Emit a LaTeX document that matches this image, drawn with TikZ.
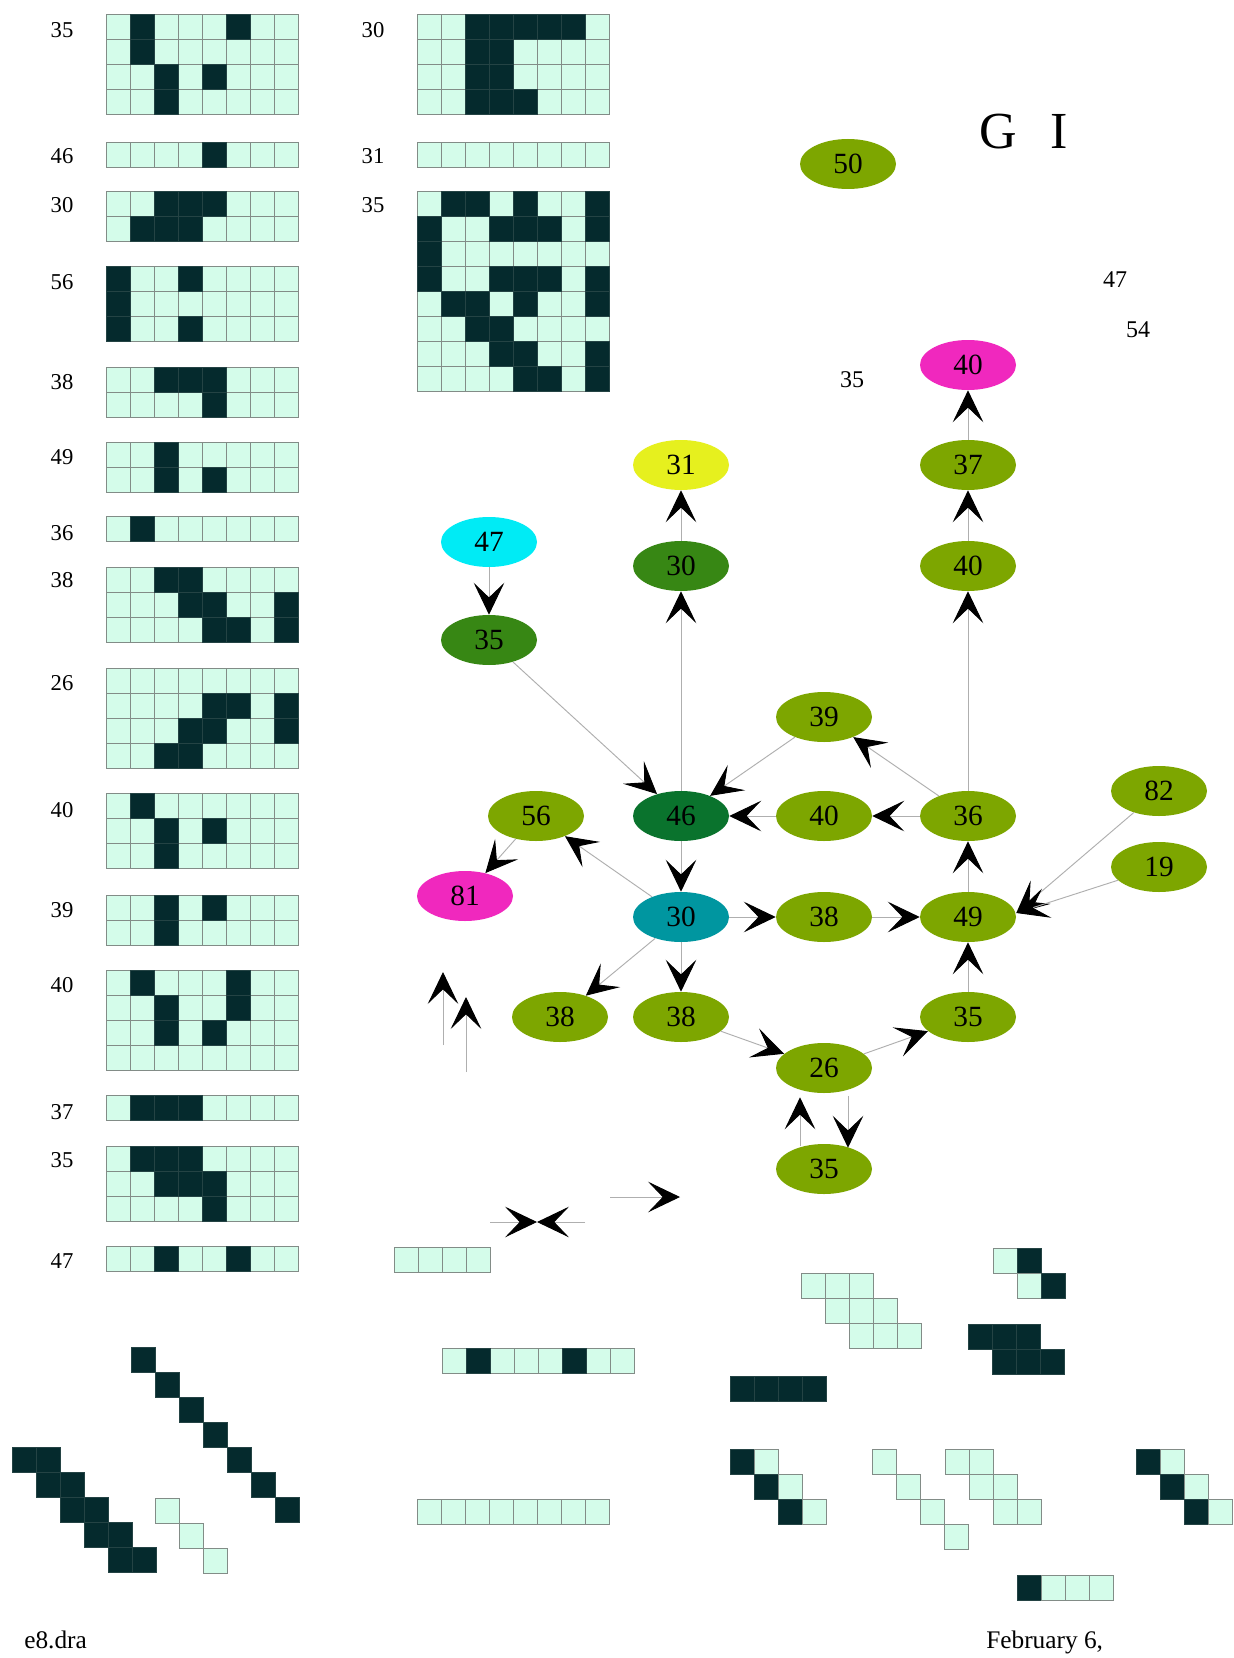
\documentclass[tikz,border=0pt]{standalone}
\usepackage{fontspec}
\setmainfont{Liberation Serif}
\usetikzlibrary{shapes.geometric,arrows.meta,calc}
\definecolor{olv}{RGB}{125,166,0}
\definecolor{dkg}{RGB}{55,135,20}
\definecolor{dkgb}{RGB}{10,115,45}
\definecolor{tealc}{RGB}{0,150,160}
\definecolor{cyanc}{RGB}{0,235,245}
\definecolor{yelc}{RGB}{230,240,30}
\definecolor{magc}{RGB}{240,40,190}
\definecolor{cl}{RGB}{212,252,234}
\definecolor{cd}{RGB}{5,42,45}
\definecolor{gline}{RGB}{130,140,135}
\definecolor{eline}{RGB}{175,175,175}
\tikzset{
  cellL/.style={fill=cl,draw=gline,line width=0.7pt},
  cellD/.style={fill=cd,draw=cd!75!gline,line width=0.7pt},
  nd/.style={ellipse,minimum width=72pt,minimum height=37.5pt,inner sep=0pt,font=\fontsize{22}{22}\selectfont},
  lbl/.style={font=\fontsize{17}{17}\selectfont,inner sep=0pt},
  edge/.style={draw=eline,line width=0.7pt,-{Stealth[length=24pt,width=23pt,inset=11pt,color=black]}},
}
\newcommand\mygrid[5]{%
  \foreach \ii in {1,...,#3}{\foreach \jj in {1,...,#4}{%
    \filldraw[cellL] ({#1+(\ii-1)*24},{#2+(\jj-1)*25}) rectangle ++(24,25);}}%
  \foreach \pp/\qq in {#5}{\filldraw[cellD] ({#1+\pp*24},{#2+\qq*25}) rectangle ++(24,25);}%
}
\newcommand\mygridE[4]{%
  \foreach \ii in {1,...,#3}{\foreach \jj in {1,...,#4}{%
    \filldraw[cellL] ({#1+(\ii-1)*24},{#2+(\jj-1)*25}) rectangle ++(24,25);}}%
}
\newcommand\cellLt[2]{\filldraw[cellL] (#1,#2) rectangle ++(24,25);}
\newcommand\cellDk[2]{\filldraw[cellD] (#1,#2) rectangle ++(24,25);}
\begin{document}
\begin{tikzpicture}[x=0.75pt,y=-0.75pt]
\fill[white] (0,0) rectangle (1233,1658);
\useasboundingbox (0,0) rectangle (1233,1658);

% ---------- left column grids ----------
\mygrid{106}{14}{8}{4}{1/0,5/0,1/1,2/2,4/2,2/3}
\mygrid{106}{142}{8}{1}{4/0}
\mygrid{106}{191}{8}{2}{2/0,3/0,4/0,1/1,2/1,3/1}
\mygrid{106}{266}{8}{3}{0/0,3/0,0/1,0/2,3/2}
\mygrid{106}{367}{8}{2}{2/0,3/0,4/0,4/1}
\mygrid{106}{442}{8}{2}{2/0,2/1,4/1}
\mygrid{106}{516}{8}{1}{1/0}
\mygrid{106}{567}{8}{3}{2/0,3/0,3/1,4/1,7/1,4/2,5/2,7/2}
\mygrid{106}{668}{8}{4}{4/1,5/1,7/1,3/2,4/2,7/2,2/3,3/3}
\mygrid{106}{793}{8}{3}{1/0,2/1,4/1,2/2}
\mygrid{106}{895}{8}{2}{2/0,4/0,2/1}
\mygrid{106}{970}{8}{4}{1/0,5/0,2/1,5/1,2/2,4/2}
\mygrid{106}{1095}{8}{1}{1/0,2/0,3/0}
\mygrid{106}{1146}{8}{3}{1/0,2/0,3/0,2/1,3/1,4/1,4/2}
\mygrid{106}{1246}{8}{1}{2/0,5/0}

\node[lbl] (la1) at (62,30) {35};
\node[lbl] (la2) at (62,156) {46};
\node[lbl] (la3) at (62,205) {30};
\node[lbl] (la4) at (62,282) {56};
\node[lbl] (la5) at (62,382) {38};
\node[lbl] (la6) at (62,457) {49};
\node[lbl] (la7) at (62,533) {36};
\node[lbl] (la8) at (62,580) {38};
\node[lbl] (la9) at (62,683) {26};
\node[lbl] (la10) at (62,810) {40};
\node[lbl] (la11) at (62,910) {39};
\node[lbl] (la12) at (62,985) {40};
\node[lbl] (la13) at (62,1112) {37};
\node[lbl] (la14) at (62,1160) {35};
\node[lbl] (la15) at (62,1261) {47};

% ---------- middle column grids ----------
\mygrid{417}{14}{8}{4}{2/0,3/0,4/0,5/0,6/0,2/1,3/1,2/2,3/2,2/3,3/3,4/3}
\mygridE{417}{142}{8}{1}
\mygrid{417}{191}{8}{8}{1/0,2/0,4/0,7/0,0/1,3/1,4/1,5/1,7/1,0/2,0/3,3/3,4/3,5/3,7/3,1/4,2/4,4/4,7/4,2/5,3/5,3/6,4/6,7/6,4/7,5/7,7/7}
\node[lbl] (lb1) at (373,30) {30};
\node[lbl] (lb2) at (373,156) {31};
\node[lbl] (lb3) at (373,205) {35};

% ---------- bottom left cells ----------
\foreach \k in {0,...,6}{\cellDk{131+24*\k}{1347+25*\k}}
\foreach \r in {0,...,4}{\cellDk{12+24*\r}{1447+25*\r}\cellDk{36+24*\r}{1447+25*\r}}
\cellLt{155}{1498}\cellLt{179}{1523}\cellLt{203}{1548}

% ---------- bottom middle ----------
\mygridE{394}{1247}{4}{1}
\mygrid{442}{1348}{8}{1}{1/0,5/0}
\mygridE{417}{1499}{8}{1}

% ---------- bottom right ----------
\cellLt{801}{1273}\cellLt{825}{1273}\cellLt{849}{1273}
\cellLt{825}{1298}\cellLt{849}{1298}\cellLt{873}{1298}
\cellLt{849}{1323}\cellLt{873}{1323}\cellLt{897}{1323}
\cellLt{993}{1248}\cellDk{1017}{1248}
\cellLt{1017}{1273}\cellDk{1041}{1273}
\cellDk{968}{1324}\cellDk{992}{1324}\cellDk{1016}{1324}
\cellDk{992}{1349}\cellDk{1016}{1349}\cellDk{1040}{1349}
\cellDk{730}{1376}\cellDk{754}{1376}\cellDk{778}{1376}\cellDk{802}{1376}
\cellDk{730}{1449}\cellLt{754}{1449}
\cellDk{754}{1474}\cellLt{778}{1474}
\cellDk{778}{1499}\cellLt{802}{1499}
\cellLt{872}{1449}\cellLt{896}{1474}\cellLt{920}{1499}\cellLt{944}{1524}
\cellLt{945}{1449}\cellLt{969}{1449}
\cellLt{969}{1474}\cellLt{993}{1474}
\cellLt{993}{1499}\cellLt{1017}{1499}
\cellDk{1136}{1449}\cellLt{1160}{1449}
\cellDk{1160}{1474}\cellLt{1184}{1474}
\cellDk{1184}{1499}\cellLt{1208}{1499}
\cellDk{1017}{1575}\cellLt{1041}{1575}\cellLt{1065}{1575}\cellLt{1089}{1575}

% ---------- texts ----------
\node[font=\fontsize{39}{39}\selectfont,inner sep=0pt] (gi) at (1024,132) {G\hspace{25pt}I};
\node[lbl,font=\fontsize{18}{18}\selectfont] (t47) at (1115,280) {47};
\node[lbl,font=\fontsize{18}{18}\selectfont] (t54) at (1138,330) {54};
\node[lbl,font=\fontsize{18}{18}\selectfont] (t35) at (852,380) {35};
\node[font=\fontsize{19}{19}\selectfont,inner sep=0pt,anchor=west] (fname) at (24,1640) {e8.dra};
\node[font=\fontsize{19}{19}\selectfont,inner sep=0pt,anchor=west] (fdate) at (986,1642) {February 6,};

% ---------- graph nodes ----------
\node[nd,fill=olv] (n50) at (848,164) {50};
\node[nd,fill=magc] (n40m) at (968,365) {40};
\node[nd,fill=olv] (n37) at (968,465) {37};
\node[nd,fill=yelc] (n31) at (681,465) {31};
\node[nd,fill=cyanc] (n47) at (489,542) {47};
\node[nd,fill=dkg] (n30a) at (681,566) {30};
\node[nd,fill=olv] (n40a) at (968,566) {40};
\node[nd,fill=dkg] (n35a) at (489,640) {35};
\node[nd,fill=olv] (n39) at (824,717) {39};
\node[nd,fill=olv] (n82) at (1159,791) {82};
\node[nd,fill=olv] (n56) at (536,816) {56};
\node[nd,fill=dkgb] (n46) at (681,816) {46};
\node[nd,fill=olv] (n40b) at (824,816) {40};
\node[nd,fill=olv] (n36) at (968,816) {36};
\node[nd,fill=olv] (n19) at (1159,867) {19};
\node[nd,fill=magc] (n81) at (465,896) {81};
\node[nd,fill=tealc] (n30b) at (681,917) {30};
\node[nd,fill=olv] (n38a) at (824,917) {38};
\node[nd,fill=olv] (n49) at (968,917) {49};
\node[nd,fill=olv] (n38b) at (560,1017) {38};
\node[nd,fill=olv] (n38c) at (681,1017) {38};
\node[nd,fill=olv] (n35b) at (968,1017) {35};
\node[nd,fill=olv] (n26) at (824,1068) {26};
\node[nd,fill=olv] (n35c) at (824,1169) {35};

% ---------- edges ----------
\draw[edge] (n47) -- (n35a);
\draw[edge] (n30a) -- (n31);
\draw[edge] (n46) -- (n30a);
\draw[edge] (n40a) -- (n37);
\draw[edge] (n37) -- (n40m);
\draw[edge] (n36) -- (n40a);
\draw[edge] (n35a) -- (n46);
\draw[edge] (n39) -- (n46);
\draw[edge] (n36) -- (n39);
\draw[edge] (n40b) -- (n46);
\draw[edge] (n36) -- (n40b);
\draw[edge] (n46) -- (n30b);
\draw[edge] (n30b) -- (n56);
\draw[edge] (n56) -- (n81);
\draw[edge] (n30b) -- (n38a);
\draw[edge] (n38a) -- (n49);
\draw[edge] (n49) -- (n36);
\draw[edge] (n82) -- ([yshift=3pt]n49.east);
\draw[edge] (n19) -- ([yshift=3pt]n49.east);
\draw[edge] (n30b) -- (n38b);
\draw[edge] (n30b) -- (n38c);
\draw[edge] (n38c) -- (n26);
\draw[edge] (n26) -- (n35b);
\draw[edge] (n35b) -- (n49);
\draw[edge] ([xshift=-18pt,yshift=-2pt]n35c.north) -- ([xshift=-18pt,yshift=-3pt]n26.south);
\draw[edge] ([xshift=18pt,yshift=-2pt]n26.south) -- ([xshift=18pt,yshift=-3pt]n35c.north);

% ---------- stray arrows ----------
\coordinate (u1a) at (443,1045); \coordinate (u1b) at (443,972);
\coordinate (u2a) at (466,1072); \coordinate (u2b) at (466,997);
\coordinate (b1) at (490,1222); \coordinate (bm) at (537,1222); \coordinate (b2) at (585,1222);
\coordinate (r1) at (610,1197); \coordinate (r2) at (680,1197);
\draw[edge] (u1a) -- (u1b);
\draw[edge] (u2a) -- (u2b);
\draw[edge] (b1) -- (bm);
\draw[edge] (b2) -- (bm);
\draw[edge] (r1) -- (r2);
\end{tikzpicture}
\end{document}
